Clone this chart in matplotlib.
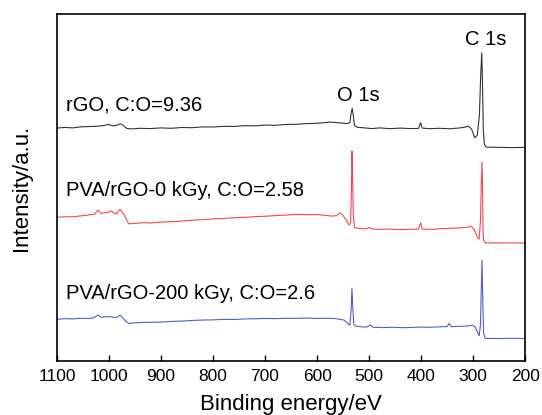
"""XPS survey spectra of rGO and PVA/rGO films (survey scan, offset stacked)."""
import matplotlib

matplotlib.use("Agg")
import matplotlib.pyplot as plt

plt.rcParams["font.family"] = ["Liberation Sans", "DejaVu Sans"]

# binding energy (eV) / intensity (a.u., offset already included)
rgo_ev = [1100, 1085, 1070, 1055, 1040, 1025, 1010, 1000, 993, 985, 979, 973, 966,
          955, 940, 920, 900, 880, 860, 840, 820, 800, 780, 760, 740, 720, 700, 680,
          660, 640, 620, 600, 585, 575, 565, 552, 542, 537, 534.5, 532.5, 530.5, 528,
          522, 510, 495, 480, 460, 440, 420, 405, 401, 398, 385, 365, 345, 325, 315,
          309, 303, 297, 292, 288, 285.5, 283.5, 282, 280.5, 278.5, 275, 250, 225, 200]
rgo_int = [233, 233.7, 233.2, 234.2, 234.5, 234.8, 235.5, 236.7, 235.2, 235.8, 237.3,
           236, 232.7, 232.2, 232.8, 232.5, 233.2, 232.8, 233.6, 233.4, 234.2, 234.1,
           234.8, 234.6, 235.4, 235.2, 236, 235.8, 236.6, 236.8, 237.5, 237.8, 238.5, 239,
           238.6, 238, 237.5, 238.5, 248, 252.7, 246, 235.5, 233.7, 233.3, 232.5, 233.2,
           232.4, 233, 232.5, 232.7, 238.3, 233, 232.4, 232.8, 232.3, 233.2, 234, 235,
           232, 223.3, 226, 246, 286, 308.3, 276, 231, 217, 214, 213.7, 213.5, 213.7]

pva0_ev = [1100, 1085, 1070, 1055, 1045, 1035, 1027, 1021, 1016, 1008, 1000, 996, 990,
           985, 979, 975, 970, 966, 962, 950, 935, 920, 900, 880, 860, 840, 820, 800,
           780, 760, 740, 720, 700, 680, 660, 640, 620, 600, 585, 572, 563, 556, 550,
           544, 538.5, 535.5, 534, 533, 532, 530.5, 528, 518, 506, 500, 495, 480, 460,
           440, 420, 405, 401, 398, 380, 360, 340, 320, 310, 304, 299, 295, 291, 288.5,
           286, 284.5, 283, 282, 281, 280, 277, 250, 225, 200]
pva0_int = [143.7, 144.4, 144.2, 145.2, 145.7, 146.5, 147, 151, 147.7, 148.3, 148.8,
            150.3, 148, 147.5, 151.7, 149.5, 145.5, 141, 137.3, 137.6, 138.4, 138.1, 139,
            139.4, 140, 140.8, 141.4, 142.1, 142.6, 143.3, 143.7, 144.4, 144.8, 145.5,
            146, 146.7, 146.4, 146.5, 145.8, 145, 145.5, 148.3, 145.5, 141, 136, 138, 171,
            210, 196, 146, 133.3, 132.6, 132.2, 133.7, 132.1, 131.7, 132, 131.4, 131.8,
            132, 138.3, 132, 131.7, 132.4, 132.8, 133.4, 133.8, 135, 132, 128, 123, 122,
            140, 175, 199.3, 175, 131, 121, 118.3, 118, 118.2, 118]

pva200_ev = [1100, 1085, 1070, 1055, 1040, 1030, 1021, 1015, 1005, 997, 990, 984, 979,
             974, 968, 962, 950, 935, 920, 900, 880, 860, 840, 820, 800, 780, 760, 740,
             720, 700, 680, 660, 640, 620, 600, 580, 565, 555, 548, 541, 537, 534.5, 533,
             531.5, 529.5, 526, 515, 505, 498, 492, 475, 455, 435, 415, 400, 385, 365,
             350, 346, 342, 325, 310, 302, 296, 291, 288.5, 286, 284.5, 283, 281.5, 280,
             277, 250, 225, 200]
pva200_int = [41.7, 42.4, 42.1, 42.8, 42.5, 43.2, 46, 43.7, 44.5, 44.3, 43.6, 44, 46,
              43.5, 40, 37.7, 38.2, 38.6, 38.7, 39, 39.6, 40, 40.6, 41, 41.2, 41.7, 41.6,
              42.1, 42.3, 42.6, 42.4, 42.8, 42.7, 43, 42.6, 42.8, 42.5, 41.7, 41, 37.5, 36,
              51, 72.7, 56, 37, 35, 34.2, 34, 36, 33.8, 33.5, 33.8, 33.4, 33.7, 34, 33.8,
              34.2, 34.5, 37.7, 34.4, 34.7, 35, 36, 34, 28, 25.3, 36, 70, 101, 61, 28,
              22.7, 22.5, 22.7, 22.5]

labels = ["rGO, C:O=9.36", "PVA/rGO-0 kGy, C:O=2.58", "PVA/rGO-200 kGy, C:O=2.6"]
label_y = [256, 171, 68]
colors = ["#333333", "#f54848", "#4d60c2"]

fig = plt.figure(figsize=(5.42, 4.15), dpi=100)
ax = fig.add_axes([0.105, 0.130, 0.864, 0.836])

for ev, inten, c in zip([rgo_ev, pva0_ev, pva200_ev],
                        [rgo_int, pva0_int, pva200_int], colors):
    ax.plot(ev, inten, color=c, lw=0.8)

for txt, y in zip(labels, label_y):
    ax.text(1082, y, txt, fontsize=14.5, va="center", ha="left")
ax.text(521, 266, "O 1s", fontsize=14.5, ha="center", va="center")
ax.text(276, 322, "C 1s", fontsize=14.5, ha="center", va="center")

ax.set_xlim(1100, 200)
ax.set_ylim(0, 347)
ax.set_xticks(range(1100, 199, -100))
ax.set_yticks([])
ax.tick_params(axis="x", direction="in", length=4, width=1, labelsize=12.5, pad=6)
for s in ax.spines.values():
    s.set_linewidth(1.2)
ax.set_xlabel("Binding energy/eV", fontsize=16, labelpad=7)
ax.set_ylabel("Intensity/a.u.", fontsize=16, labelpad=18)

fig.savefig("out.png", dpi=100)
